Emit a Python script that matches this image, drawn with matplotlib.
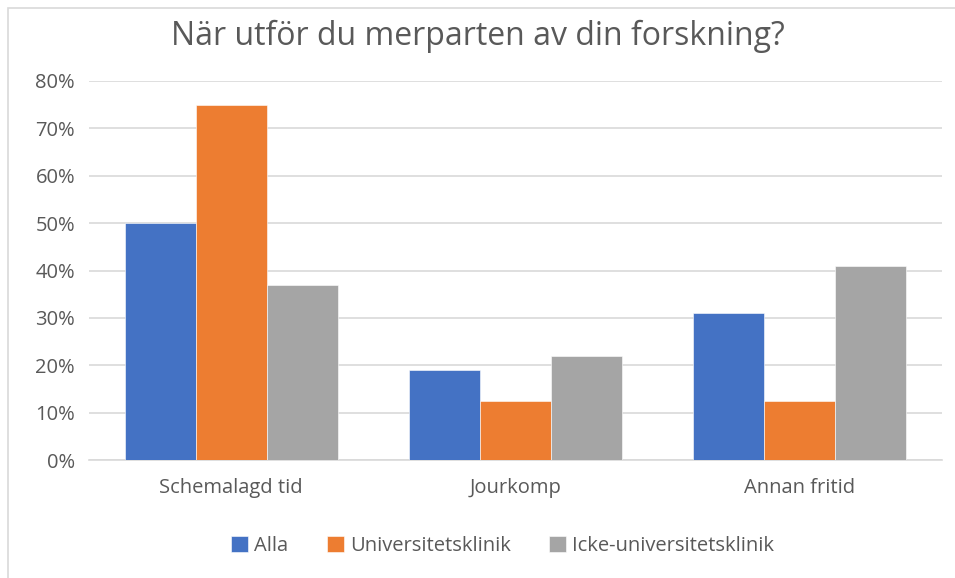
import numpy as np
import matplotlib.pyplot as plt
from matplotlib.patches import Rectangle

categories = ["Schemalagd tid", "Jourkomp", "Annan fritid"]
series = ["Alla", "Universitetsklinik", "Icke-universitetsklinik"]
alla = [50, 19, 31]
universitet = [75, 12.5, 12.5]
icke_universitet = [37, 22, 41]
colors = ["#4472C4", "#ED7D31", "#A5A5A5"]
yticks = [0, 10, 20, 30, 40, 50, 60, 70, 80]

plt.rcParams['font.family'] = ['Open Sans', 'DejaVu Sans']
text_col = "#595959"

fig = plt.figure(figsize=(9.55, 5.78), dpi=100)
ax = fig.add_axes([89 / 955, 118 / 578, 853 / 955, 379 / 578])

# light chart border (only top and left edges fall inside the image)
fig.patches.append(Rectangle((8 / 955, -0.2), 1.2, 1.2 - 8 / 578, transform=fig.transFigure,
                             fill=False, edgecolor="#D9D9D9", linewidth=1.2))

x = np.arange(len(categories))
w = 0.25
for i, (vals, name) in enumerate(zip([alla, universitet, icke_universitet], series)):
    ax.bar(x + (i - 1) * w, vals, width=w, color=colors[i], label=name,
           edgecolor="white", linewidth=0.4, zorder=3)

ax.set_xlim(-0.5, 2.5)
ax.set_ylim(0, 80)
ax.set_yticks(yticks)
ax.set_yticklabels([f"{t}%" for t in yticks])
ax.set_xticks(x)
ax.set_xticklabels(categories)
ax.tick_params(axis='both', length=0, labelsize=14.5, labelcolor=text_col)
ax.tick_params(axis='y', pad=10)
ax.tick_params(axis='x', pad=13)
ax.grid(axis='y', color="#D9D9D9", linewidth=1.2, zorder=0)
for s in ["top", "right", "left"]:
    ax.spines[s].set_visible(False)
ax.spines["bottom"].set_color("#D9D9D9")
ax.spines["bottom"].set_linewidth(1.2)

fig.text(0.5, 1 - 36 / 578, "När utför du merparten av din forskning?", ha="center", va="center",
         fontsize=23, color=text_col)

ax.legend(loc="center", bbox_to_anchor=(0.485, -0.226), ncol=3, frameon=False, fontsize=14.5,
          labelcolor=text_col, handlelength=0.85, handleheight=0.85, handletextpad=0.3,
          columnspacing=1.9)

plt.savefig("out.png", dpi=100)
